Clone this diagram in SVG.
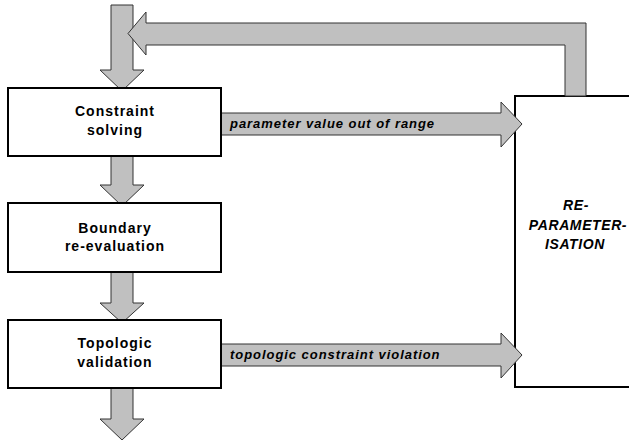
<svg xmlns="http://www.w3.org/2000/svg" width="629" height="440" viewBox="0 0 629 440">
<style>
.box{fill:#fff;stroke:#000;stroke-width:2}
.arr{fill:#c0c0c0;stroke:#333;stroke-width:1}
.lbl{font-family:"Liberation Sans",Arial,sans-serif;font-weight:bold;font-size:14px;letter-spacing:1px;text-anchor:middle;fill:#000}
.alb{font-family:"Liberation Sans",Arial,sans-serif;font-weight:bold;font-style:italic;font-size:13px;letter-spacing:0.95px;fill:#000}
.rlb{font-family:"Liberation Sans",Arial,sans-serif;font-weight:bold;font-style:italic;font-size:14px;letter-spacing:0.6px;text-anchor:middle;fill:#000}
</style>
<rect width="629" height="440" fill="#fff"/>
<g id="reparam">
<rect class="box" x="515" y="96" width="130" height="291"/>
<text class="rlb" x="576" y="210">RE-</text>
<text class="rlb" x="578" y="230">PARAMETER-</text>
<text class="rlb" x="575" y="249">ISATION</text>
</g>
<g id="connectors">
<polygon class="arr" points="111,5 133,5 133,70 144,70 122,91 100,70 111,70"/>
<polygon class="arr" points="565,96 565,45 146,45 146,55 128,33.5 146,12 146,23 586,23 586,96"/>
<polygon class="arr" points="111,156 133,156 133,185 144,185 122,206 100,185 111,185"/>
<polygon class="arr" points="111,272 133,272 133,303 144,303 122,323 100,303 111,303"/>
<polygon class="arr" points="111,388 133,388 133,419 144,419 122,440 100,419 111,419"/>
<polygon class="arr" points="221,113 501,113 501,102 522,124 501,147 501,135 221,135"/>
<polygon class="arr" points="221,344 501,344 501,333 522,355 501,378 501,366 221,366"/>
<text class="alb" x="230" y="128">parameter value out of range</text>
<text class="alb" x="230" y="359">topologic constraint violation</text>
</g>
<g id="constraint-solving">
<rect class="box" x="8" y="88" width="213" height="68"/>
<text class="lbl" x="115" y="116">Constraint</text>
<text class="lbl" x="115" y="134.5">solving</text>
</g>
<g id="boundary">
<rect class="box" x="8" y="203" width="213" height="69"/>
<text class="lbl" x="115" y="233">Boundary</text>
<text class="lbl" x="115" y="251">re-evaluation</text>
</g>
<g id="topologic">
<rect class="box" x="8" y="320" width="213" height="68"/>
<text class="lbl" x="115" y="348">Topologic</text>
<text class="lbl" x="115" y="366.5">validation</text>
</g>
</svg>
